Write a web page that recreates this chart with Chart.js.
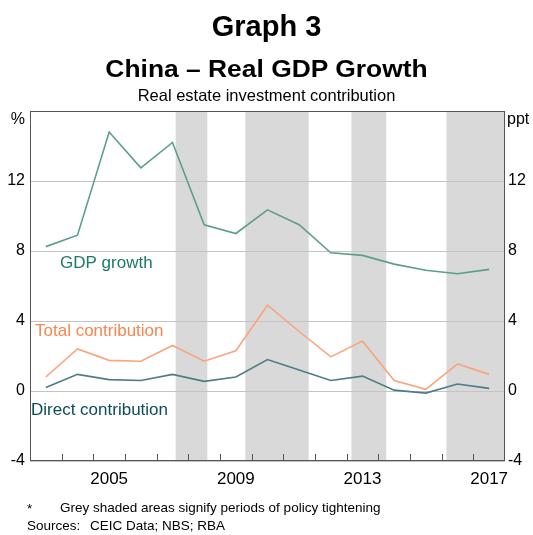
<!DOCTYPE html>
<html>
<head>
<meta charset="utf-8">
<script src="https://cdn.jsdelivr.net/npm/chart.js@4.4.1/dist/chart.umd.min.js"></script>
<style>
  body { margin: 0; background: #fff; font-family: "Liberation Sans", Arial, sans-serif; }
  #wrap { position: relative; width: 533px; height: 535px; overflow: hidden; }
  #chart { position: absolute; left: 0; top: 0; }
  .t { position: absolute; line-height: 1; white-space: nowrap; color: #000; }
</style>
</head>
<body>
<div id="wrap">
  <canvas id="chart" width="533" height="535"></canvas>
  <div class="t" style="left:0;width:533px;text-align:center;top:12px;font-size:29px;font-weight:bold">Graph 3</div>
  <div class="t" style="left:0;width:533px;text-align:center;top:57px;font-size:24px;font-weight:bold;transform:scaleX(1.1)">China – Real GDP Growth</div>
  <div class="t" style="left:0;width:533px;text-align:center;top:87px;font-size:16.5px">Real estate investment contribution</div>
  <div class="t" style="left:27px;top:502px;font-size:13.5px">*</div>
  <div class="t" style="left:60px;top:501px;font-size:13.5px">Grey shaded areas signify periods of policy tightening</div>
  <div class="t" style="left:27px;top:519px;font-size:13.5px">Sources:</div>
  <div class="t" style="left:90px;top:519px;font-size:13.5px">CEIC Data; NBS; RBA</div>
</div>
<script>
// annual data, plotted at mid-year
const years = [2003, 2004, 2005, 2006, 2007, 2008, 2009, 2010, 2011, 2012, 2013, 2014, 2015, 2016, 2017];
const gdpGrowth = [8.25, 8.9, 14.8, 12.75, 14.2, 9.5, 9.0, 10.35, 9.5, 7.9, 7.75, 7.25, 6.9, 6.7, 6.95];
const totalContribution = [0.8, 2.4, 1.75, 1.7, 2.6, 1.7, 2.3, 4.9, 3.4, 1.95, 2.85, 0.6, 0.1, 1.55, 0.95];
const directContribution = [0.2, 0.95, 0.65, 0.6, 0.95, 0.55, 0.8, 1.8, 1.2, 0.6, 0.85, 0.05, -0.12, 0.4, 0.15];

// policy tightening periods (start, end in decimal years)
const tightening = [[2007.6, 2008.6], [2009.8, 2011.8], [2013.15, 2014.25], [2016.15, 2018]];
const xTickLabels = [2005, 2009, 2013, 2017];
const yTicks = [-4, 0, 4, 8, 12, 16];

const toPoints = vals => vals.map((v, i) => ({ x: years[i] + 0.5, y: v }));

const shadePlugin = {
  id: 'shade',
  beforeDraw(chart) {
    const { ctx, chartArea: a, scales: { x } } = chart;
    ctx.save();
    ctx.fillStyle = '#d9d9d9';
    tightening.forEach(([s, e]) => {
      const x0 = x.getPixelForValue(s), x1 = x.getPixelForValue(e);
      ctx.fillRect(x0, a.top, x1 - x0, a.bottom - a.top);
    });
    ctx.restore();
  }
};

const framePlugin = {
  id: 'frame',
  afterDraw(chart) {
    const { ctx, chartArea: a, scales: { x } } = chart;
    ctx.save();
    ctx.strokeStyle = '#555';
    ctx.lineWidth = 1;
    ctx.strokeRect(Math.round(a.left) + 0.5, Math.round(a.top) + 0.5,
      Math.round(a.right - a.left) - 1, Math.round(a.bottom - a.top) - 1);
    // year tick marks inside the bottom axis
    ctx.beginPath();
    for (let yr = years[0] + 1; yr < 2018; yr++) {
      const px = Math.round(x.getPixelForValue(yr)) + 0.5;
      ctx.moveTo(px, a.bottom);
      ctx.lineTo(px, a.bottom - 7);
    }
    ctx.stroke();
    // units
    ctx.fillStyle = '#000';
    ctx.font = '16px "Liberation Sans", Arial, sans-serif';
    ctx.textBaseline = 'alphabetic';
    ctx.textAlign = 'right';
    ctx.fillText('%', a.left - 5, 124);
    ctx.textAlign = 'left';
    ctx.fillText('ppt', a.right + 2, 124);
    // series labels
    ctx.font = '17px "Liberation Sans", Arial, sans-serif';
    ctx.fillStyle = '#1b7a66';
    ctx.fillText('GDP growth', 60, 268);
    ctx.fillStyle = '#f7864f';
    ctx.fillText('Total contribution', 35, 336);
    ctx.fillStyle = '#0d4c5b';
    ctx.fillText('Direct contribution', 31, 415);
    ctx.restore();
  }
};

const yCommon = {
  type: 'linear',
  min: -4,
  max: 16,
  afterBuildTicks: s => { s.ticks = yTicks.map(v => ({ value: v })); },
  ticks: {
    callback: v => (v === 16 ? '' : v),
    color: '#000',
    font: { size: 16, family: '"Liberation Sans", Arial, sans-serif' }
  },
  border: { display: false }
};

new Chart('chart', {
  type: 'line',
  data: {
    datasets: [
      { label: 'GDP growth', data: toPoints(gdpGrowth), borderColor: '#5a9f8c', borderWidth: 1.6 },
      { label: 'Total contribution', data: toPoints(totalContribution), borderColor: '#f9a57e', borderWidth: 1.6 },
      { label: 'Direct contribution', data: toPoints(directContribution), borderColor: '#4b7d86', borderWidth: 1.6 }
    ]
  },
  options: {
    responsive: false,
    animation: false,
    devicePixelRatio: 1,
    layout: { padding: { top: 111, left: 0, right: 0, bottom: 0 } },
    elements: { point: { radius: 0 }, line: { tension: 0 } },
    plugins: { legend: { display: false }, tooltip: { enabled: false } },
    scales: {
      x: {
        type: 'linear',
        min: 2003,
        max: 2018,
        afterBuildTicks: s => { s.ticks = xTickLabels.map(v => ({ value: v + 0.5 })); },
        afterFit: s => { s.height = 74; },
        grid: { display: false, drawTicks: false },
        border: { display: false },
        ticks: {
          callback: v => Math.floor(v),
          maxRotation: 0,
          padding: 8,
          color: '#000',
          font: { size: 17, family: '"Liberation Sans", Arial, sans-serif' }
        }
      },
      y: {
        ...yCommon,
        position: 'left',
        afterFit: s => { s.width = 30; },
        grid: { color: '#c4c4c4', drawTicks: false },
        ticks: { ...yCommon.ticks, padding: 5 }
      },
      y2: {
        ...yCommon,
        position: 'right',
        afterFit: s => { s.width = 28; },
        grid: { display: false, drawTicks: false },
        ticks: { ...yCommon.ticks, padding: 3 }
      }
    }
  },
  plugins: [shadePlugin, framePlugin]
});
</script>
</body>
</html>
